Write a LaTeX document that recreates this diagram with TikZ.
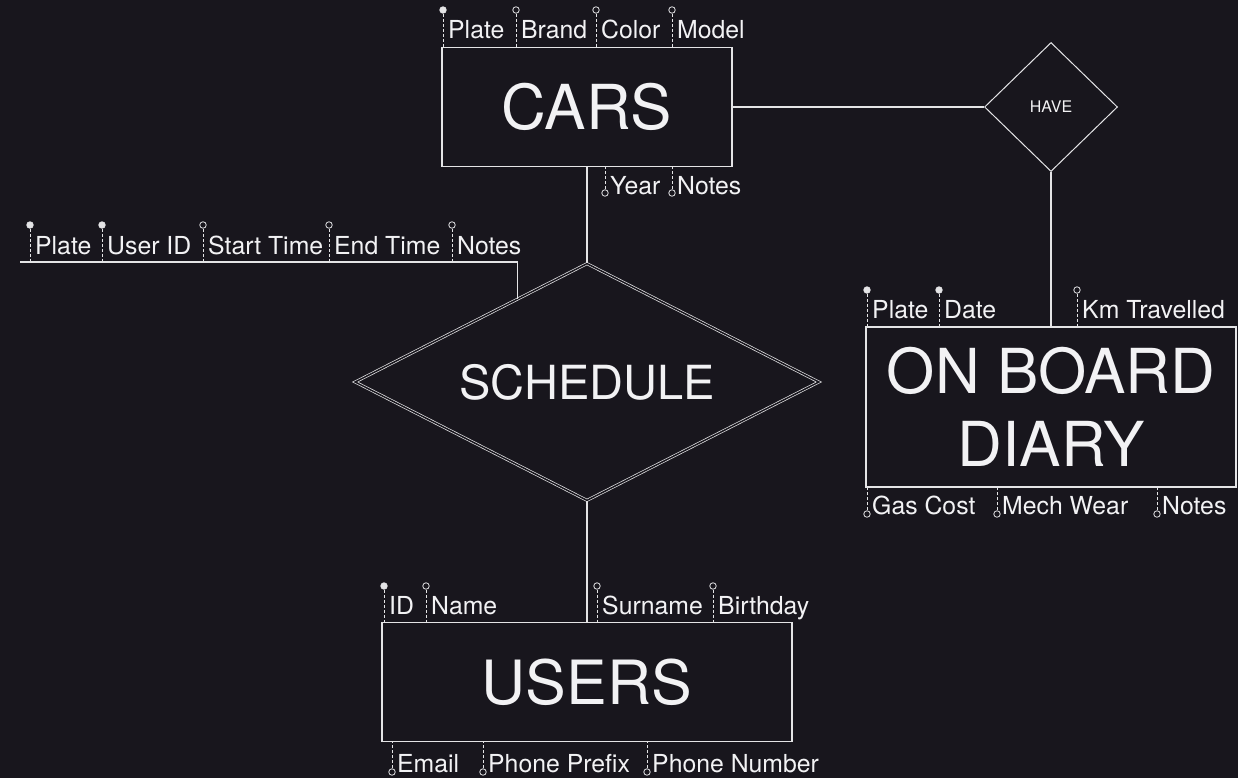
\documentclass[tikz,border=0pt]{standalone}
\usepackage{fontspec}
\setmainfont{TeX Gyre Heros}
\usepackage {tikz}
\usetikzlibrary {positioning}
\usetikzlibrary{shapes.geometric}
\usetikzlibrary{calc}
\definecolor{bgcol}{RGB}{24,22,29}
\definecolor{inkcol}{RGB}{228,228,230}
\definecolor{txtcol}{RGB}{242,242,244}
\tikzset{
    entity/.style = {rectangle,draw=inkcol,fill=bgcol,line width=1.1pt,inner sep=0pt,text=txtcol,align=center},
    relation/.style = {diamond,draw=inkcol,fill=bgcol,line width=1pt,inner sep=0pt,aspect=2,text=txtcol},
    weakrel/.style = {relation,line width=0.7pt,double=bgcol,double distance=1.5pt},
    link/.style = {draw=inkcol,line width=1.1pt},
    stub/.style = {draw=inkcol,line width=0.9pt,dash pattern=on 3pt off 2pt},
    keyattr/.style = {circle,draw=inkcol,fill=inkcol,line width=0.8pt,inner sep=0pt,minimum size=6.5pt},
    optattr/.style = {circle,draw=inkcol,fill=bgcol,line width=0.8pt,inner sep=0pt,minimum size=6.5pt},
    attr/.style = {anchor=base west,inner sep=0pt,text=txtcol,font=\fontsize{24.8}{29}\selectfont}}

\begin{document}
\begin{tikzpicture}[x=1pt,y=-1pt]
        \fill[bgcol] (0,0) rectangle (1238,778);
        \useasboundingbox (0,0) rectangle (1238,778);
        \node[entity,minimum width=290pt,minimum height=119pt,font=\fontsize{62}{74}\selectfont] (cars) at (587,107) {CARS};
        \node[weakrel,minimum width=464pt,minimum height=237pt,font=\fontsize{47}{56}\selectfont] (schedule) at (587,382) {SCHEDULE};
        \node[entity,minimum width=410pt,minimum height=119pt,font=\fontsize{61}{73}\selectfont] (users) at (587,682) {USERS};
        \node[relation,minimum width=133pt,minimum height=129pt,font=\fontsize{16}{19}\selectfont] (have) at (1051,107) {HAVE};
        \node[entity,minimum width=370pt,minimum height=160pt,font=\fontsize{62}{73}\selectfont] (diary) at (1051,407) {ON BOARD\\DIARY};
        \coordinate (barend) at (20,262);
        \draw[link] (cars.south) -- (schedule.north) (schedule.south) -- (users.north);
        \draw[link] (cars.east) -- (have.west) (have.south) -- (have.south |- diary.north);
        \draw[link] (barend) -| ($(schedule.west)!0.7!(schedule.north)$);
        % attributes above and below the boxes
        \foreach \x/\id/\txt/\kind in {443/cPlate/Plate/keyattr, 516/cBrand/Brand/optattr, 596/cColor/Color/optattr, 672/cModel/Model/optattr}{
            \node[\kind] (\id) at (\x,10) {};
            \node[attr] (\id T) at (\x+5,39) {\txt};
            \draw[stub] (\id) -- (\id |- cars.north);}
        \foreach \x/\id/\txt in {605/cYear/Year, 672/cNotes/Notes}{
            \node[optattr] (\id) at (\x,193) {};
            \node[attr] (\id T) at (\x+5,194) {\txt};
            \draw[stub] (\id) -- (\id |- cars.south);}
        \foreach \x/\id/\txt/\kind in {30/sPlate/Plate/keyattr, 102/sUser/User ID/keyattr, 203/sStart/Start Time/optattr, 329/sEnd/End Time/optattr, 452/sNotes/Notes/optattr}{
            \node[\kind] (\id) at (\x,225) {};
            \node[attr] (\id T) at (\x+5,254) {\txt};
            \draw[stub] (\id) -- (\id |- barend);}
        \foreach \x/\id/\txt/\kind in {384/uID/ID/keyattr, 426/uName/Name/optattr, 597/uSurname/Surname/optattr, 713/uBirthday/Birthday/optattr}{
            \node[\kind] (\id) at (\x,586) {};
            \node[attr] (\id T) at (\x+5,614) {\txt};
            \draw[stub] (\id) -- (\id |- users.north);}
        \foreach \x/\id/\txt in {392/uEmail/Email, 483/uPrefix/Phone Prefix, 647/uNumber/Phone Number}{
            \node[optattr] (\id) at (\x,772) {};
            \node[attr] (\id T) at (\x+5,772) {\txt};
            \draw[stub] (\id) -- (\id |- users.south);}
        \foreach \x/\id/\txt/\kind in {867/dPlate/Plate/keyattr, 939/dDate/Date/keyattr, 1077/dKm/Km Travelled/optattr}{
            \node[\kind] (\id) at (\x,290) {};
            \node[attr] (\id T) at (\x+5,318) {\txt};
            \draw[stub] (\id) -- (\id |- diary.north);}
        \foreach \x/\id/\txt in {867/dGas/Gas Cost, 997/dWear/Mech Wear, 1157/dNotes/Notes}{
            \node[optattr] (\id) at (\x,514) {};
            \node[attr] (\id T) at (\x+5,514) {\txt};
            \draw[stub] (\id) -- (\id |- diary.south);}
\end{tikzpicture}
\end{document}
